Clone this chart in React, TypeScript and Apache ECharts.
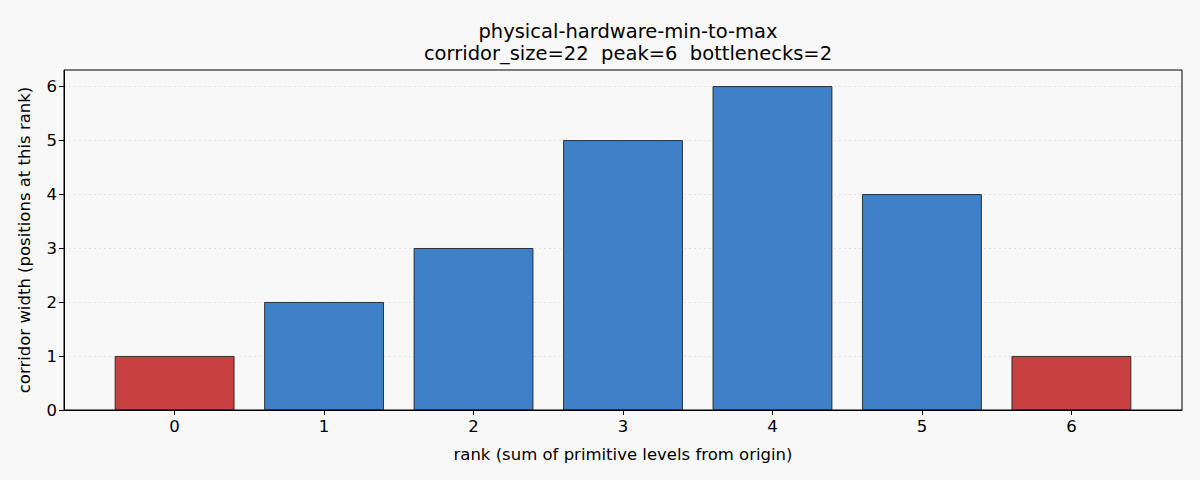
import React, { useEffect, useRef } from 'react';
import * as echarts from 'echarts';

const ranks = [0, 1, 2, 3, 4, 5, 6];
const widths = [1, 2, 3, 5, 6, 4, 1];
const bottleneck = [true, false, false, false, false, false, true];
const yTicks = [0, 1, 2, 3, 4, 5, 6];

const BLUE = '#3f80c8';
const RED = '#c84042';
const FONT = 'DejaVu Sans';
const INK = '#000';

const App: React.FC = () => {
  const chartRef = useRef<HTMLDivElement>(null);

  useEffect(() => {
    document.body.style.margin = '0';
    document.body.style.background = '#f8f8f8';
    if (!chartRef.current) return;
    const chart = echarts.init(chartRef.current, undefined, { renderer: 'svg' });

    const option = {
      animation: false,
      backgroundColor: '#f8f8f8',
      textStyle: { fontFamily: FONT },
      title: {
        text: 'physical-hardware-min-to-max\ncorridor_size=22  peak=6  bottlenecks=2',
        left: 623,
        top: 15,
        textAlign: 'center',
        textStyle: {
          fontFamily: FONT,
          fontSize: 19.5,
          fontWeight: 'normal',
          color: INK,
          lineHeight: 22.5
        }
      },
      grid: {
        left: 64,
        right: 18,
        top: 70,
        bottom: 70,
        show: true,
        borderColor: '#000',
        borderWidth: 1,
        backgroundColor: 'transparent'
      },
      xAxis: {
        type: 'value',
        min: -0.74,
        max: 6.74,
        name: 'rank (sum of primitive levels from origin)',
        nameLocation: 'middle',
        nameGap: 36,
        nameTextStyle: { fontFamily: FONT, fontSize: 16.5, color: INK },
        axisLine: { show: true, onZero: false, lineStyle: { color: '#000', width: 1 } },
        axisTick: { show: true, length: 5, customValues: ranks, lineStyle: { color: '#000' } },
        axisLabel: {
          customValues: ranks,
          fontFamily: FONT,
          fontSize: 16.5,
          color: INK,
          margin: 8
        },
        splitLine: { show: false }
      },
      yAxis: {
        type: 'value',
        min: 0,
        max: 6.3,
        name: 'corridor width (positions at this rank)',
        nameLocation: 'middle',
        nameGap: 31,
        nameTextStyle: { fontFamily: FONT, fontSize: 16.5, color: INK },
        axisLine: { show: true, onZero: false, lineStyle: { color: '#000', width: 1 } },
        axisTick: { show: true, length: 5, customValues: yTicks, lineStyle: { color: '#000' } },
        axisLabel: {
          customValues: yTicks,
          fontFamily: FONT,
          fontSize: 16.5,
          color: INK,
          margin: 7
        },
        splitLine: {
          show: true,
          lineStyle: { color: '#dcdcdc', width: 0.8, type: [2, 3] }
        }
      },
      series: [
        {
          type: 'bar',
          barWidth: 119.7,
          data: ranks.map((r, i) => ({
            value: [r, widths[i]],
            itemStyle: {
              color: bottleneck[i] ? RED : BLUE,
              borderColor: '#111',
              borderWidth: 0.8
            }
          }))
        }
      ]
    };

    chart.setOption(option);
    return () => {
      chart.dispose();
    };
  }, []);

  return <div ref={chartRef} style={{ width: 1200, height: 480 }} />;
};

export default App;
